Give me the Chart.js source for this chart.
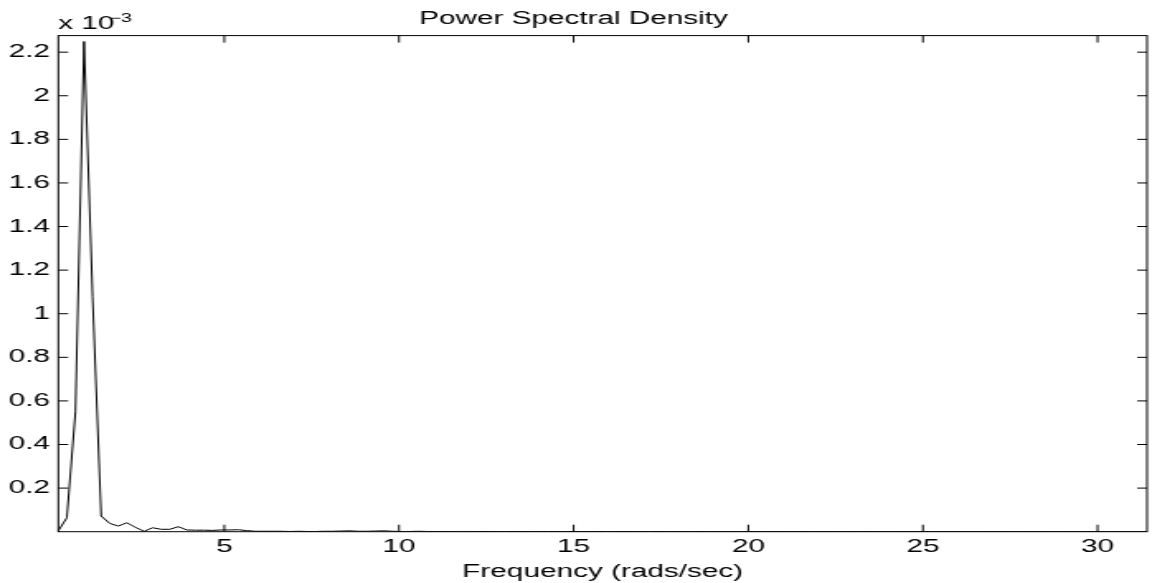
<!DOCTYPE html>
<html>
<head>
<meta charset="utf-8">
<script src="https://cdn.jsdelivr.net/npm/chart.js@4/dist/chart.umd.min.js"></script>
<style>
  html, body { margin: 0; padding: 0; background: #fff; overflow: hidden; }
  /* the reference is stretched sideways, so the canvas is drawn narrow and widened */
  #wrap { width: 698px; height: 583px; transform: scaleX(1.6504); transform-origin: 0 0; }
</style>
</head>
<body>
<div id="wrap"><canvas id="psdChart" width="698" height="583"></canvas></div>
<script>
// Frequency bins (rads/sec)
const freqs = [
  0.245, 0.491, 0.736, 0.982, 1.227, 1.473, 1.718, 1.963, 2.209, 2.454,
  2.700, 2.945, 3.191, 3.436, 3.682, 3.927, 4.172, 4.418, 4.663, 4.909,
  5.154, 5.400, 5.645, 5.890, 6.136, 6.381, 6.627, 6.872, 7.118, 7.363,
  7.609, 7.854, 8.099, 8.345, 8.590, 8.836, 9.081, 9.327, 9.572, 9.817,
  10.063, 10.308, 10.554, 10.799, 11.045, 11.290, 11.536, 11.781, 12.026, 12.272,
  12.517, 12.763, 13.008, 13.254, 13.499, 13.744, 13.990, 14.235, 14.481, 14.726,
  14.972, 15.217, 15.463, 15.708, 15.953, 16.199, 16.444, 16.690, 16.935, 17.181,
  17.426, 17.671, 17.917, 18.162, 18.408, 18.653, 18.899, 19.144, 19.390, 19.635,
  19.880, 20.126, 20.371, 20.617, 20.862, 21.108, 21.353, 21.598, 21.844, 22.089,
  22.335, 22.580, 22.826, 23.071, 23.317, 23.562, 23.807, 24.053, 24.298, 24.544,
  24.789, 25.035, 25.280, 25.525, 25.771, 26.016, 26.262, 26.507, 26.753, 26.998,
  27.243, 27.489, 27.734, 27.980, 28.225, 28.471, 28.716, 28.962, 29.207, 29.452,
  29.698, 29.943, 30.189, 30.434, 30.680, 30.925, 31.171, 31.416
];

// Power spectral density, in units of 10^-3
const psdE3 = [
  0.004, 0.064, 0.550, 2.249, 1.080, 0.072, 0.038, 0.026, 0.041, 0.020,
  0.002, 0.018, 0.011, 0.011, 0.023, 0.008, 0.007, 0.007, 0.006, 0.008,
  0.008, 0.009, 0.005, 0.002, 0.002, 0.002, 0.002, 0.001, 0.002, 0.001,
  0.001, 0.002, 0.002, 0.003, 0.004, 0.002, 0.002, 0.003, 0.004, 0.002,
  0.001, 0.001, 0.002, 0.001, 0.001, 0.001, 0.001, 0.001, 0.001, 0.001,
  0.001, 0.001, 0.0005, 0.001, 0.001, 0.0005, 0.001, 0.001, 0.001, 0.0005,
  0.001, 0.0005, 0.0005, 0.001, 0.0005, 0.0005, 0.001, 0.0005, 0.0005, 0.0005,
  0.001, 0.0005, 0.0005, 0.0005, 0.0005, 0.001, 0.0005, 0.0005, 0.0005, 0.0005,
  0.0005, 0.001, 0.0005, 0.0005, 0.0005, 0.0005, 0.0005, 0.001, 0.0005, 0.0005,
  0.0005, 0.0005, 0.0005, 0.0005, 0.001, 0.0005, 0.0005, 0.0005, 0.0005, 0.0005,
  0.0005, 0.0005, 0.0005, 0.0005, 0.0005, 0.0005, 0.0005, 0.0005, 0.0005, 0.0005,
  0.0005, 0.0005, 0.0005, 0.0005, 0.0005, 0.0005, 0.0005, 0.0005, 0.0005, 0.0005,
  0.0005, 0.0005, 0.0005, 0.0005, 0.0005, 0.0005, 0.0005, 0.0005
];

const xTicks = [5, 10, 15, 20, 25, 30];
const yTicks = [0.2, 0.4, 0.6, 0.8, 1, 1.2, 1.4, 1.6, 1.8, 2, 2.2];

const fontFamily = '"Liberation Sans", Arial, Helvetica, sans-serif';

// Matlab-like box: full frame, inward ticks on all four sides, exponent label
const matlabBox = {
  id: "matlabBox",
  afterDraw(chart) {
    const { ctx, chartArea: a, scales } = chart;
    const x = scales.x;
    const y = scales.y;
    ctx.save();
    ctx.strokeStyle = "#000";
    ctx.lineWidth = 1;
    ctx.strokeRect(a.left, a.top, a.right - a.left, a.bottom - a.top);

    ctx.beginPath();
    x.ticks.forEach((t) => {
      const px = x.getPixelForValue(t.value);
      ctx.moveTo(px, a.bottom);
      ctx.lineTo(px, a.bottom - 7);
      ctx.moveTo(px, a.top);
      ctx.lineTo(px, a.top + 7);
    });
    y.ticks.forEach((t) => {
      const py = y.getPixelForValue(t.value);
      ctx.moveTo(a.left, py);
      ctx.lineTo(a.left + 6, py);
      ctx.moveTo(a.right, py);
      ctx.lineTo(a.right - 6, py);
    });
    ctx.stroke();

    // "x 10^-3" above the y axis
    ctx.fillStyle = "#000";
    ctx.textBaseline = "alphabetic";
    ctx.textAlign = "left";
    ctx.font = "18px " + fontFamily;
    const base = "x 10";
    ctx.fillText(base, a.left, a.top - 7);
    const w = ctx.measureText(base).width;
    ctx.font = "12px " + fontFamily;
    ctx.fillText("\u22123", a.left + w - 3, a.top - 14);
    ctx.restore();
  },
};

new Chart(document.getElementById("psdChart"), {
  type: "line",
  data: {
    datasets: [
      {
        data: freqs.map((f, i) => ({ x: f, y: psdE3[i] })),
        borderColor: "#000",
        borderWidth: 1,
        pointRadius: 0,
        tension: 0,
        fill: false,
      },
    ],
  },
  options: {
    responsive: false,
    animation: false,
    devicePixelRatio: 1,
    layout: { padding: { left: 0, right: 3, top: 0, bottom: 0 } },
    plugins: {
      legend: { display: false },
      tooltip: { enabled: false },
      title: {
        display: true,
        text: "Power Spectral Density",
        color: "#000",
        font: { family: fontFamily, size: 18, weight: "normal" },
        padding: { top: 8, bottom: 6 },
      },
    },
    scales: {
      x: {
        type: "linear",
        min: freqs[0],
        max: freqs[freqs.length - 1],
        afterBuildTicks: (s) => {
          s.ticks = xTicks.map((v) => ({ value: v }));
        },
        afterFit: (s) => {
          s.height = 51.3;
        },
        grid: { display: false, drawTicks: false },
        border: { display: false },
        ticks: {
          color: "#000",
          font: { family: fontFamily, size: 18 },
          padding: 5,
          maxRotation: 0,
          autoSkip: false,
        },
        title: {
          display: true,
          text: "Frequency (rads/sec)",
          color: "#000",
          font: { family: fontFamily, size: 18 },
          padding: { top: 1, bottom: 0 },
        },
      },
      y: {
        type: "linear",
        min: 0,
        max: 2.276,
        afterBuildTicks: (s) => {
          s.ticks = yTicks.map((v) => ({ value: v }));
        },
        afterFit: (s) => {
          s.width = 35.3;
        },
        grid: { display: false, drawTicks: false },
        border: { display: false },
        ticks: {
          color: "#000",
          font: { family: fontFamily, size: 18 },
          padding: 5,
          autoSkip: false,
          callback: (v) => String(v),
        },
      },
    },
  },
  plugins: [matlabBox],
});
</script>
</body>
</html>
